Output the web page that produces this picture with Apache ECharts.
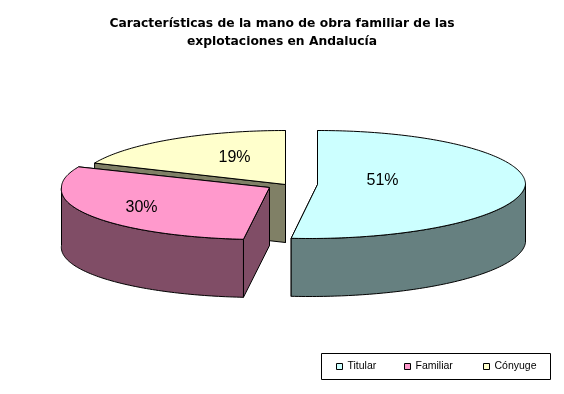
<!DOCTYPE html>
<html>
<head>
<meta charset="utf-8">
<style>html,body{margin:0;padding:0;background:#fff}#c{width:564px;height:394px}</style>
<script src="https://cdn.jsdelivr.net/npm/echarts@6/dist/echarts.min.js"></script>
</head>
<body>
<div id="c"></div>
<script>
var categories = ['Titular', 'Familiar', 'Cónyuge'];
var values = [51.4, 30.1, 18.5];
var topColors = ['#CCFFFF', '#FF99CC', '#FFFFCC'];
var sideColors = ['#668080', '#804D66', '#808066'];
var titleText = 'Características de la mano de obra familiar de las\nexplotaciones en Andalucía';

// layout of each exploded slice
var apexes = [[317.5, 184.5], [269.5, 187.5], [285.5, 184.5]];
var radiiY = [54, 52, 54];
var radiusX = 208, depth = 58, frontShear = -0.15;
var labelOffsets = [[65, -4], [-128, 20], [-51, -27]];
var legendLefts = [336, 404, 483];

var total = values.reduce(function (a, b) { return a + b; }, 0);

function pt(i, deg, r, drop) {
  var t = deg * Math.PI / 180;
  var dx = radiusX * r * Math.sin(t);
  var dy = -radiiY[i] * r * Math.cos(t);
  if (dy > 0) dx += frontShear * dy;
  return [apexes[i][0] + dx, apexes[i][1] + dy + (drop || 0)];
}
function arc(i, a, b, drop) {
  var pts = [], n = Math.max(2, Math.ceil(Math.abs(b - a)));
  for (var k = 0; k <= n; k++) pts.push(pt(i, a + (b - a) * k / n, 1, drop));
  return pts;
}
function face(i, deg) {
  var a = apexes[i], e = pt(i, deg, 1);
  return [a, e, [e[0], e[1] + depth], [a[0], a[1] + depth]];
}
function poly(points, fill) {
  return { type: 'polygon', shape: { points: points }, style: { fill: fill, stroke: '#000', lineWidth: 1 } };
}

function makeRender(i) {
  var before = values.slice(0, i).reduce(function (a, b) { return a + b; }, 0);
  return function (params, api) {
    var a0 = before / total * 360;
    var a1 = a0 + api.value(0) / total * 360;
    var kids = [];
    kids.push(poly(face(i, a1), sideColors[i]));
    kids.push(poly(face(i, a0), sideColors[i]));
    var wa = Math.max(a0, 90), wb = Math.min(a1, 270);
    if (wb > wa) {
      kids.push(poly(arc(i, wa, wb, 0).concat(arc(i, wb, wa, depth)), sideColors[i]));
    }
    kids.push(poly([apexes[i]].concat(arc(i, a0, a1, 0)), topColors[i]));
    kids.push({
      type: 'text',
      style: {
        text: Math.round(api.value(0)) + '%',
        x: apexes[i][0] + labelOffsets[i][0],
        y: apexes[i][1] + labelOffsets[i][1],
        align: 'center', verticalAlign: 'middle',
        fill: '#000', font: '16px "Liberation Sans"'
      }
    });
    return { type: 'group', children: kids };
  };
}

var order = [2, 1, 0];
var option = {
  animation: false,
  backgroundColor: '#fff',
  title: {
    text: titleText, left: 282, top: 15, textAlign: 'center', padding: 0,
    textStyle: { fontFamily: 'DejaVu Sans', fontSize: 12.3, fontWeight: 'bold', color: '#000', lineHeight: 18 }
  },
  legend: categories.map(function (name, i) {
    return {
      left: legendLefts[i], top: 361, padding: 0, itemWidth: 6, itemHeight: 6, itemGap: 0, icon: 'rect',
      selectedMode: false,
      textStyle: { fontFamily: 'Liberation Sans', fontSize: 10.5, color: '#000' },
      data: [{ name: name, itemStyle: { color: topColors[i], borderColor: '#000', borderWidth: 1 } }]
    };
  }),
  graphic: [{
    type: 'rect', z: -1,
    shape: { x: 321.5, y: 353.5, width: 229, height: 26 },
    style: { fill: '#fff', stroke: '#000', lineWidth: 1 }
  }],
  series: order.map(function (i) {
    return {
      type: 'custom', name: categories[i], coordinateSystem: 'none',
      itemStyle: { color: topColors[i] },
      renderItem: makeRender(i),
      data: [[values[i]]],
      silent: true
    };
  })
};
echarts.init(document.getElementById('c'), null, { renderer: 'canvas' }).setOption(option);
</script>
</body>
</html>
